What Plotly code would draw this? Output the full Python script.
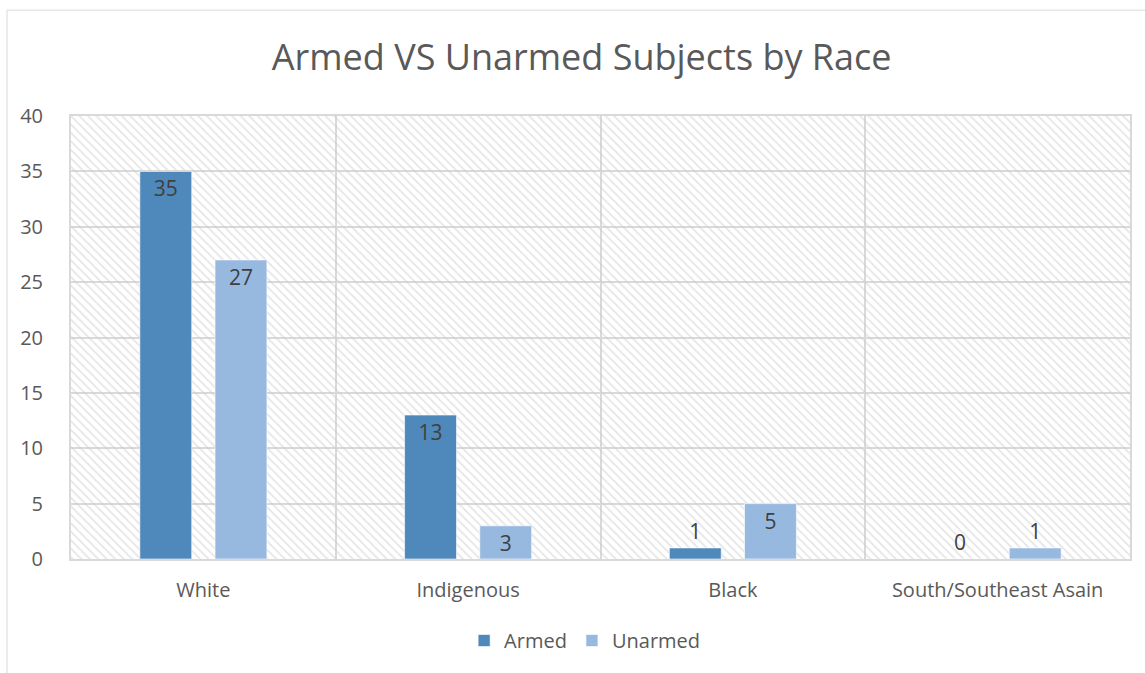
import plotly.graph_objects as go

categories = ["White", "Indigenous", "Black", "South/Southeast Asain"]
armed = [35, 13, 1, 0]
unarmed = [27, 3, 5, 1]
armed_textpos = ["inside", "inside", "outside", "outside"]
unarmed_textpos = ["inside", "inside", "inside", "outside"]
y_max = 40

FONT = "Open Sans"
GRID = "#d9d9d9"
TXT = "#595959"
FS = 20

x_pos = list(range(len(categories)))

fig = go.Figure()

# hatched plot-area background
fig.add_trace(go.Bar(
    x=[(len(categories) - 1) / 2], y=[y_max], width=[len(categories)],
    marker=dict(color="rgba(0,0,0,0)", line=dict(width=0),
                pattern=dict(shape="\\", fgcolor="#cccccc", size=6, solidity=0.3)),
    showlegend=False, hoverinfo="skip",
))

lab_font = dict(family=FONT, size=21, color="#404040")

fig.add_trace(go.Bar(
    name="Armed", x=x_pos, y=armed, text=[str(v) for v in armed],
    textposition=armed_textpos, insidetextanchor="end",
    textangle=0, constraintext="none",
    width=0.196, offset=-0.24,
    marker=dict(color="#4f88bb", line=dict(color="rgba(255,255,255,0.6)", width=1)),
    textfont=lab_font, insidetextfont=lab_font, outsidetextfont=lab_font,
    cliponaxis=False,
))
fig.add_trace(go.Bar(
    name="Unarmed", x=x_pos, y=unarmed, text=[str(v) for v in unarmed],
    textposition=unarmed_textpos, insidetextanchor="end",
    textangle=0, constraintext="none",
    width=0.196, offset=0.044,
    marker=dict(color="#97b9e0", line=dict(color="rgba(255,255,255,0.6)", width=1)),
    textfont=lab_font, insidetextfont=lab_font, outsidetextfont=lab_font,
    cliponaxis=False,
))

# chart border
fig.add_shape(type="rect", xref="paper", yref="paper",
              x0=-0.0604, x1=1.03, y0=-0.3, y1=1.239,
              line=dict(color="#d9d9d9", width=1), fillcolor="rgba(0,0,0,0)", layer="below")

fig.update_layout(
    width=1145, height=673,
    margin=dict(l=71, r=15, t=116, b=114),
    paper_bgcolor="white", plot_bgcolor="white",
    barmode="overlay",
    title=dict(text="Armed VS Unarmed Subjects by Race", x=0.508, xanchor="center",
               y=0.914, yanchor="middle",
               font=dict(family=FONT, size=36, color=TXT)),
    font=dict(family=FONT, size=FS, color=TXT),
    legend=dict(orientation="h", x=0.485, xanchor="center", y=-0.14, yanchor="top",
                font=dict(family=FONT, size=FS, color=TXT),
                itemwidth=30, traceorder="normal"),
)
fig.update_xaxes(
    range=[-0.5, len(categories) - 0.5],
    tickmode="array", tickvals=x_pos, ticktext=categories,
    showgrid=False, zeroline=False,
    showline=True, mirror=True, linecolor=GRID, linewidth=2,
    ticks="", ticklabelstandoff=12,
    tickfont=dict(family=FONT, size=FS, color=TXT),
    minor=dict(tickvals=[i + 0.5 for i in x_pos[:-1]], showgrid=True,
               gridcolor=GRID, gridwidth=2, ticks=""),
)
fig.update_yaxes(
    range=[0, y_max], dtick=5, tick0=0,
    showgrid=True, gridcolor=GRID, gridwidth=2,
    zeroline=False,
    showline=True, mirror=True, linecolor=GRID, linewidth=2,
    ticks="", ticklabelstandoff=22,
    tickfont=dict(family=FONT, size=FS, color=TXT),
)

fig.write_html("out.html")
